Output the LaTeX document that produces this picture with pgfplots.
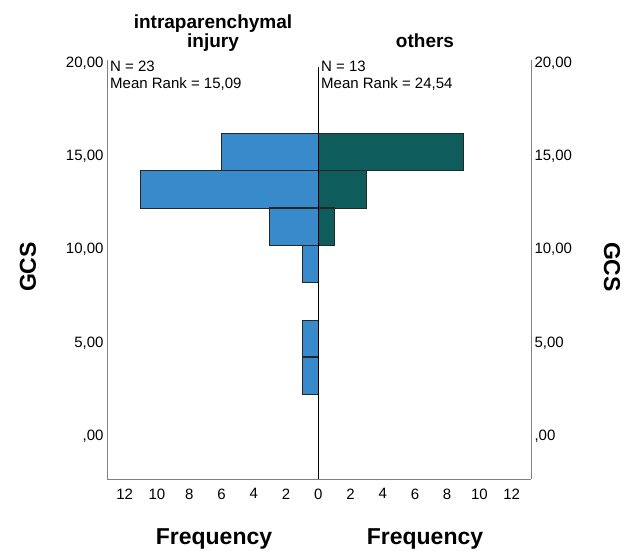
\documentclass[border=0pt]{standalone}
\usepackage{fontspec}
\setmainfont{Liberation Sans}
\usepackage{pgfplots}
\pgfplotsset{compat=1.18}
\definecolor{barblue}{HTML}{388ACA}
\definecolor{barteal}{HTML}{0E5C5C}
\definecolor{frame}{HTML}{808080}
\newcommand{\tk}{\fontsize{15}{17}\selectfont}
\newcommand{\ttl}{\fontsize{19}{21}\selectfont\bfseries}
\newcommand{\lab}{\fontsize{23}{26}\selectfont\bfseries}
\begin{document}
\begin{tikzpicture}
\useasboundingbox (0,0) rectangle (630pt,550pt);
\pgfplotsset{
  common/.style={
    at={(107pt,71pt)}, anchor=south west,
    scale only axis, width=424pt, height=419pt,
    xmin=-13.1, xmax=13.2, ymin=-2.31, ymax=20.17,
    ytick={0,5,10,15,20},
    yticklabels={{,00},{5,00},{10,00},{15,00},{20,00}},
    major tick length=0pt,
    tick label style={font=\tk},
    /pgf/number format/assume math mode=true,
    axis line style={frame, line width=0.9pt},
    clip=false,
  }
}
\begin{axis}[common,
  axis x line*=bottom, axis y line*=left,
  xtick={-12,-10,-8,-6,-4,-2,0,2,4,6,8,10,12},
  xticklabels={12,10,8,6,4,2,0,2,4,6,8,10,12},
  xticklabel style={yshift=-6pt},
  xbar, bar width=2, bar shift=0pt,
]
\addplot[fill=barblue, draw=black!85, line width=1pt] coordinates {
  (-6,15.22) (-11,13.22) (-3,11.24) (-1,9.23) (-1,5.2) (-1,3.24)
};
\addplot[fill=barteal, draw=black!85, line width=1pt] coordinates {
  (9,15.22) (3,13.22) (1,11.24)
};
\draw[black, line width=1.1pt] (axis cs:0,-2.31) -- (axis cs:0,19.8);
\end{axis}
\begin{axis}[common,
  axis x line=none, axis y line*=right,
  yticklabel pos=right,
]
\addplot[draw=none] coordinates {(0,0)};
\end{axis}
% panel annotations
\node[anchor=north west, align=left, inner sep=0pt, font=\tk] at (110pt,489pt) {N = 23\\Mean Rank = 15,09};
\node[anchor=north west, align=left, inner sep=0pt, font=\tk] at (321pt,489pt) {N = 13\\Mean Rank = 24,54};
% titles
\node[anchor=base, inner sep=0pt, font=\ttl] at (213pt,521pt) {intraparenchymal};
\node[anchor=base, inner sep=0pt, font=\ttl] at (213pt,502pt) {injury};
\node[anchor=base, inner sep=0pt, font=\ttl] at (425pt,502pt) {others};
% axis labels
\node[anchor=base, inner sep=0pt, font=\lab] at (214pt,6pt) {Frequency};
\node[anchor=base, inner sep=0pt, font=\lab] at (425pt,6pt) {Frequency};
\node[rotate=90, inner sep=0pt, font=\lab] at (28pt,283pt) {GCS};
\node[rotate=-90, inner sep=0pt, font=\lab] at (612pt,283pt) {GCS};
\end{tikzpicture}
\end{document}
